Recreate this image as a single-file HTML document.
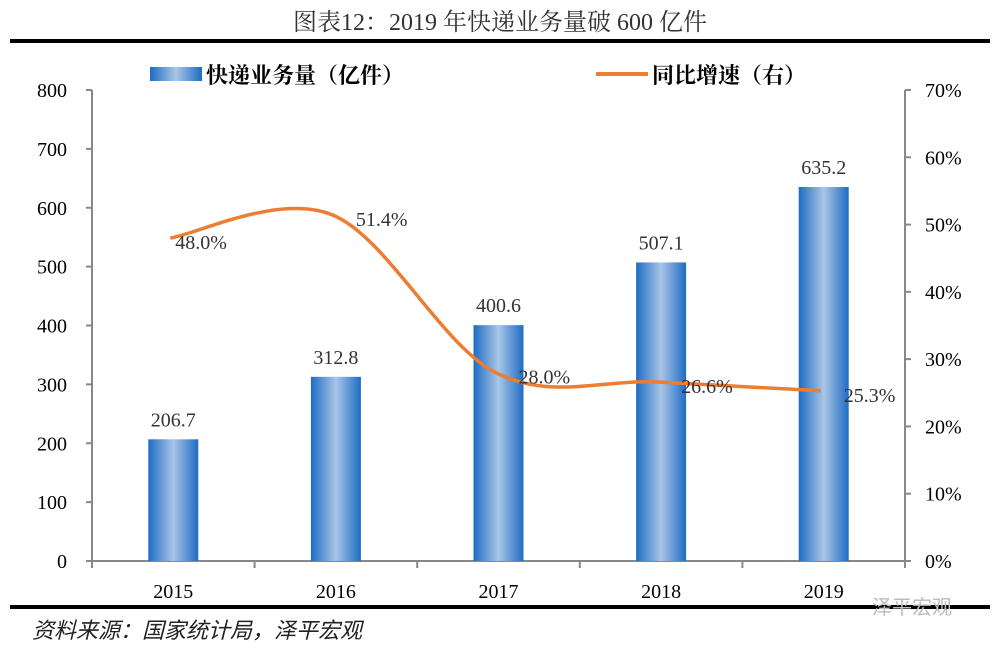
<!DOCTYPE html>
<html><head><meta charset="utf-8"><style>
body{margin:0;background:#fff;width:1000px;height:651px;overflow:hidden;font-family:"Liberation Serif","Noto Serif CJK SC",serif}
</style></head><body>
<svg width="1000" height="651" viewBox="0 0 1000 651">
<defs><linearGradient id="bg" x1="0" x2="1" y1="0" y2="0">
<stop offset="0" stop-color="#1e6cc4"/><stop offset="0.5" stop-color="#a9c5e6"/><stop offset="1" stop-color="#1e6cc4"/></linearGradient></defs>
<text x="500" y="30" text-anchor="middle" font-size="24" fill="#333">图表12：2019 年快递业务量破 600 亿件</text>
<rect x="10" y="39" width="980" height="4" fill="#000"/>
<rect x="150" y="67" width="52" height="14" fill="url(#bg)"/>
<text x="206" y="83" font-size="22" font-weight="bold" fill="#000">快递业务量（亿件）</text>
<rect x="596" y="72" width="52" height="4" fill="#ed7d31"/>
<text x="652" y="83" font-size="22" font-weight="bold" fill="#000">同比增速（右）</text>
<g id="axes"></g>
<g id="bars"></g>
<g id="line"></g>
<rect x="10" y="605" width="980" height="4" fill="#000"/>
<text x="32" y="638" font-size="22" font-style="italic" fill="#222" font-family="'Noto Sans CJK SC',sans-serif">资料来源：国家统计局，泽平宏观</text>
<text x="872" y="614" font-size="20" fill="#bbb" font-family="'Noto Sans CJK SC',sans-serif">泽平宏观</text>
</svg>
<script>
const categories=["2015","2016","2017","2018","2019"];
const volumes=[206.7,312.8,400.6,507.1,635.2];
const growth=[48.0,51.4,28.0,26.6,25.3];
const leftTicks=[0,100,200,300,400,500,600,700,800];
const rightTicks=[0,10,20,30,40,50,60,70];
const NS="http://www.w3.org/2000/svg";
const X0=92,X1=905,Y0=561,Y1=90;
const bw=(X1-X0)/categories.length;
const xc=i=>X0+bw*(i+0.5);
const yL=v=>Y0-(v/800)*(Y0-Y1);
const yR=v=>Y0-(v/70)*(Y0-Y1);
function mk(t,a,p){const e=document.createElementNS(NS,t);for(const k in a)e.setAttribute(k,a[k]);p.appendChild(e);return e;}
const ax=document.getElementById('axes');
const ac="#888";
let e;
e=mk('line',{x1:X0,y1:Y1,x2:X0,y2:Y0,stroke:ac,'stroke-width':2},ax);

e=mk('line',{x1:X1,y1:Y1,x2:X1,y2:Y0,stroke:ac,'stroke-width':2},ax);

e=mk('line',{x1:X0-6,y1:Y0,x2:X1+6,y2:Y0,stroke:ac,'stroke-width':2},ax);

leftTicks.forEach(v=>{const y=yL(v);
 mk('line',{x1:X0-6,y1:y,x2:X0,y2:y,stroke:ac,'stroke-width':2},ax);
 e=mk('text',{x:X0-25,y:y+7,'text-anchor':'end','font-size':20,fill:'#000'},ax);e.textContent=v;
 });
rightTicks.forEach(v=>{const y=yR(v);
 mk('line',{x1:X1,y1:y,x2:X1+6,y2:y,stroke:ac,'stroke-width':2},ax);
 e=mk('text',{x:X1+20,y:y+7,'font-size':20,fill:'#000'},ax);e.textContent=v+'%';
 });
for(let i=0;i<=categories.length;i++){mk('line',{x1:X0+bw*i,y1:Y0,x2:X0+bw*i,y2:Y0+7,stroke:ac,'stroke-width':2},ax);}
categories.forEach((c,i)=>{e=mk('text',{x:xc(i),y:Y0+37,'text-anchor':'middle','font-size':20,fill:'#000'},ax);e.textContent=c;
 });
const bg=document.getElementById('bars');
volumes.forEach((v,i)=>{const w=50;
 e=mk('rect',{x:xc(i)-w/2,y:yL(v),width:w,height:Y0-yL(v),fill:'url(#bg)'},bg);
 
 e=mk('text',{x:xc(i),y:yL(v)-13,'text-anchor':'middle','font-size':20,fill:'#333'},bg);e.textContent=v.toFixed(1);
 });
const lg=document.getElementById('line');
const pts=growth.map((v,i)=>[xc(i)-3,yR(v)]);
let d='M'+pts[0][0]+','+pts[0][1];
for(let i=0;i<pts.length-1;i++){const p0=pts[Math.max(0,i-1)],p1=pts[i],p2=pts[i+1],p3=pts[Math.min(pts.length-1,i+2)];
 const c1=[p1[0]+(p2[0]-p0[0])/6,p1[1]+(p2[1]-p0[1])/6],c2=[p2[0]-(p3[0]-p1[0])/6,p2[1]-(p3[1]-p1[1])/6];
 d+=' C'+c1+' '+c2+' '+p2;}
e=mk('path',{d:d,fill:'none',stroke:'#ed7d31','stroke-width':3.5},lg);

growth.forEach((v,i)=>{e=mk('text',{x:xc(i)+(i===0?2:20),y:yR(v)+11,'font-size':20,fill:'#333'},lg);e.textContent=v.toFixed(1)+'%';
 });
</script>
</body></html>
